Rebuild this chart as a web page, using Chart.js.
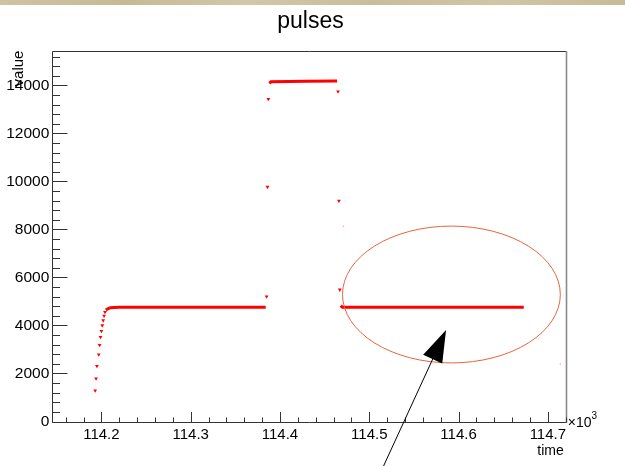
<!DOCTYPE html>
<html>
<head>
<meta charset="utf-8">
<script src="https://cdn.jsdelivr.net/npm/chart.js@4/dist/chart.umd.min.js"></script>
<style>
    html, body { margin: 0; padding: 0; background: #fff; }
    #wrap { position: absolute; left: 0; top: 0; width: 625px; height: 466px; }
    #band { position: absolute; left: 0; top: 0; width: 625px; height: 5px;
        background: linear-gradient(90deg, #cfc3a4 0%, #c6b996 20%, #d2c7a9 40%, #c9bc9b 60%, #d0c5a6 80%, #c7ba98 100%); }
</style>
</head>
<body>
<div id="wrap"><canvas id="pulsesChart" width="625" height="466"></canvas></div>
<div id="band"></div>
<script>
// time axis ticks (raw units, labelled in x10^3)
const xTicks = [114200, 114300, 114400, 114500, 114600, 114700];
const yTicks = [0, 2000, 4000, 6000, 8000, 10000, 12000, 14000];

// rising edge of the first pulse
const rampTime  = [114193, 114194, 114195, 114197, 114198, 114199, 114200, 114201, 114202, 114203, 114204, 114206];
const rampValue = [1290, 1790, 2310, 2790, 3180, 3520, 3770, 4000, 4210, 4400, 4560, 4670];

// first low plateau
const lowATime  = [114206, 114210, 114220, 114384];
const lowAValue = [4670, 4740, 4758, 4760];

// jump up
const riseTime  = [114385, 114386, 114387];
const riseValue = [5200, 9770, 13430];

// high plateau
const highTime  = [114388, 114390, 114430, 114464];
const highValue = [14090, 14150, 14170, 14180];

// jump down
const fallTime  = [114465, 114466, 114467];
const fallValue = [13740, 9190, 5490];

// second low plateau
const lowBTime  = [114468, 114470, 114673];
const lowBValue = [4830, 4760, 4758];

// faint stray points
const strayTime  = [114471, 114714];
const strayValue = [8130, 2400];

// annotation (data coords)
const ellipseCenter = [114592, 5290];
const ellipseRadius = [122, 2850];
const arrowFrom = [114516, -1854];
const arrowTo   = [114586, 3812];

const red = '#ff0000';
const fontFamily = '"Liberation Sans", Arial, Helvetica, sans-serif';

function pts(xs, ys) {
    return xs.map((x, i) => ({ x: x, y: ys[i] }));
}

function markerSet(xs, ys) {
    return {
        data: pts(xs, ys),
        showLine: false,
        pointStyle: 'triangle',
        rotation: 180,
        pointRadius: 2.2,
        pointBackgroundColor: red,
        pointBorderColor: red,
        pointBorderWidth: 0
    };
}

function lineSet(xs, ys) {
    return {
        data: pts(xs, ys),
        showLine: true,
        borderColor: red,
        borderWidth: 3,
        pointRadius: 0,
        tension: 0
    };
}

// ROOT style title, frame, inward ticks, axis titles, annotation
const rootStyle = {
    id: 'rootStyle',
    afterDraw(chart) {
        const ctx = chart.ctx;
        const area = chart.chartArea;
        const xs = chart.scales.x;
        const ys = chart.scales.y;
        ctx.save();

        // title
        ctx.fillStyle = '#000';
        ctx.font = '23px ' + fontFamily;
        ctx.textAlign = 'center';
        ctx.textBaseline = 'alphabetic';
        ctx.fillText('pulses', 310.5, 28);

        // frame
        ctx.lineWidth = 1;
        ctx.strokeStyle = '#333';
        ctx.beginPath();
        ctx.moveTo(Math.round(area.right) + 0.5, Math.round(area.top) + 0.5);
        ctx.lineTo(Math.round(area.left) + 0.5, Math.round(area.top) + 0.5);
        ctx.lineTo(Math.round(area.left) + 0.5, Math.round(area.bottom) + 0.5);
        ctx.lineTo(Math.round(area.right) + 0.5, Math.round(area.bottom) + 0.5);
        ctx.stroke();
        ctx.strokeStyle = '#8a8a8a';
        ctx.lineWidth = 1.6;
        ctx.beginPath();
        ctx.moveTo(Math.round(area.right) + 0.5, Math.round(area.top));
        ctx.lineTo(Math.round(area.right) + 0.5, Math.round(area.bottom) + 1);
        ctx.stroke();

        // x ticks
        ctx.strokeStyle = '#333';
        ctx.lineWidth = 1;
        const yb = Math.round(area.bottom) + 0.5;
        for (let v = 114160; v <= xs.max; v += 20) {
            const px = Math.round(xs.getPixelForValue(v)) + 0.5;
            const len = xTicks.includes(v) ? 10.5 : 5;
            ctx.beginPath();
            ctx.moveTo(px, yb);
            ctx.lineTo(px, yb - len);
            ctx.stroke();
        }
        // y ticks
        const xl = Math.round(area.left) + 0.5;
        for (let v = 0; v <= ys.max; v += 400) {
            const py = Math.round(ys.getPixelForValue(v)) + 0.5;
            const len = yTicks.includes(v) ? 15 : 7.5;
            ctx.beginPath();
            ctx.moveTo(xl, py);
            ctx.lineTo(xl + len, py);
            ctx.stroke();
        }

        // axis titles
        ctx.fillStyle = '#000';
        ctx.font = '14px ' + fontFamily;
        ctx.textAlign = 'left';
        ctx.fillText('\u00d710', area.right + 2, area.bottom + 5);
        const w10 = ctx.measureText('\u00d710').width;
        ctx.font = '10px ' + fontFamily;
        ctx.fillText('3', area.right + 2 + w10, area.bottom - 3);

        ctx.font = '14px ' + fontFamily;
        ctx.textAlign = 'right';
        ctx.fillText('time', area.right - 2, area.bottom + 33);

        ctx.save();
        ctx.translate(area.left - 29, area.top);
        ctx.rotate(-Math.PI / 2);
        ctx.textAlign = 'right';
        ctx.font = '15px ' + fontFamily;
        ctx.fillText('value', 0, 0);
        ctx.restore();

        // ellipse
        const cx = xs.getPixelForValue(ellipseCenter[0]);
        const cy = ys.getPixelForValue(ellipseCenter[1]);
        const rx = Math.abs(xs.getPixelForValue(ellipseCenter[0] + ellipseRadius[0]) - cx);
        const ry = Math.abs(ys.getPixelForValue(ellipseCenter[1] + ellipseRadius[1]) - cy);
        ctx.strokeStyle = '#e4653c';
        ctx.lineWidth = 1;
        ctx.beginPath();
        ctx.ellipse(cx, cy, rx, ry, 0, 0, Math.PI * 2);
        ctx.stroke();

        // arrow
        const x0 = xs.getPixelForValue(arrowFrom[0]);
        const y0 = ys.getPixelForValue(arrowFrom[1]);
        const x1 = xs.getPixelForValue(arrowTo[0]);
        const y1 = ys.getPixelForValue(arrowTo[1]);
        const ang = Math.atan2(y1 - y0, x1 - x0);
        const headLen = 32, headHalf = 10.5;
        const bx = x1 - headLen * Math.cos(ang);
        const by = y1 - headLen * Math.sin(ang);
        ctx.strokeStyle = '#000';
        ctx.fillStyle = '#000';
        ctx.lineWidth = 1;
        ctx.beginPath();
        ctx.moveTo(x0, y0);
        ctx.lineTo(bx, by);
        ctx.stroke();
        ctx.beginPath();
        ctx.moveTo(x1, y1);
        ctx.lineTo(bx + headHalf * Math.sin(ang), by - headHalf * Math.cos(ang));
        ctx.lineTo(bx - headHalf * Math.sin(ang), by + headHalf * Math.cos(ang));
        ctx.closePath();
        ctx.fill();

        ctx.restore();
    }
};

new Chart(document.getElementById('pulsesChart'), {
    type: 'scatter',
    data: {
        datasets: [
            lineSet(lowATime, lowAValue),
            lineSet(highTime, highValue),
            lineSet(lowBTime, lowBValue),
            markerSet(rampTime, rampValue),
            markerSet(riseTime, riseValue),
            markerSet(fallTime, fallValue),
            {
                data: pts(strayTime, strayValue),
                showLine: false,
                pointRadius: 0.8,
                pointBackgroundColor: 'rgba(255,110,110,0.6)',
                pointBorderWidth: 0
            }
        ]
    },
    options: {
        responsive: false,
        animation: false,
        layout: { padding: { left: 0, right: 59.3, top: 50.6, bottom: 0 } },
        plugins: {
            legend: { display: false },
            tooltip: { enabled: false },
            title: { display: false }
        },
        scales: {
            x: {
                type: 'linear',
                min: 114145,
                max: 114720,
                grid: { display: false, drawTicks: false },
                border: { display: false },
                afterBuildTicks: function(scale) {
                    scale.ticks = xTicks.map(v => ({ value: v }));
                },
                afterFit: function(scale) {
                    scale.height = 44.5;
                },
                ticks: {
                    color: '#000',
                    padding: 4,
                    maxRotation: 0,
                    autoSkip: false,
                    font: { family: fontFamily, size: 15 },
                    callback: function(value) {
                        return (value / 1000).toFixed(1);
                    }
                }
            },
            y: {
                type: 'linear',
                min: 0,
                max: 15450,
                grid: { display: false, drawTicks: false },
                border: { display: false },
                afterBuildTicks: function(scale) {
                    scale.ticks = yTicks.map(v => ({ value: v }));
                },
                afterFit: function(scale) {
                    scale.width = 52.3;
                },
                ticks: {
                    color: '#000',
                    padding: 3,
                    autoSkip: false,
                    font: { family: fontFamily, size: 15.5 },
                    callback: function(value) {
                        return String(value);
                    }
                }
            }
        }
    },
    plugins: [rootStyle]
});
</script>
</body>
</html>
